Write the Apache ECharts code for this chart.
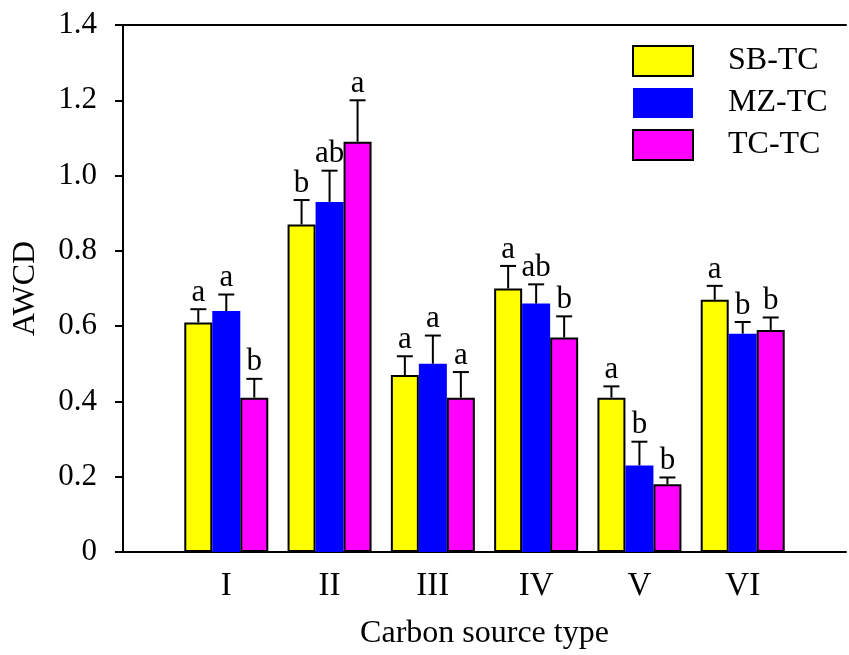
<!DOCTYPE html>
<html>
<head>
<meta charset="utf-8">
<script src="https://cdn.jsdelivr.net/npm/echarts@6/dist/echarts.min.js"></script>
<style>
html,body{margin:0;padding:0;background:#fff;overflow:hidden;}
#chart{width:849px;height:655px;}
</style>
</head>
<body>
<div id="chart"></div>
<script>
// ---- data ----
var categories = ['I', 'II', 'III', 'IV', 'V', 'VI'];
var seriesNames = ['SB-TC', 'MZ-TC', 'TC-TC'];
var sbValues = [0.61, 0.87, 0.47, 0.70, 0.41, 0.67];
var mzValues = [0.64, 0.93, 0.50, 0.66, 0.23, 0.58];
var tcValues = [0.41, 1.09, 0.41, 0.57, 0.18, 0.59];
var sbErrors = [0.035, 0.065, 0.05, 0.06, 0.03, 0.037];
var mzErrors = [0.044, 0.083, 0.075, 0.051, 0.063, 0.031];
var tcErrors = [0.05, 0.11, 0.068, 0.056, 0.018, 0.033];
var sbLetters = ['a', 'b', 'a', 'a', 'a', 'a'];
var mzLetters = ['a', 'ab', 'a', 'ab', 'b', 'b'];
var tcLetters = ['b', 'a', 'a', 'b', 'b', 'b'];
var yTickValues = [0, 0.2, 0.4, 0.6, 0.8, 1.0, 1.2, 1.4];
var yTickLabels = ['0', '0.2', '0.4', '0.6', '0.8', '1.0', '1.2', '1.4'];

// ---- build ----
var FONT = "'Liberation Serif', 'Times New Roman', serif";
var colors = ['#ffff00', '#0000ff', '#ff00ff'];
var borders = ['#000000', '#0000ff', '#000000'];
var values = [sbValues, mzValues, tcValues];
var errors = [sbErrors, mzErrors, tcErrors];
var letters = [sbLetters, mzLetters, tcLetters];
var axisCats = [''].concat(categories).concat(['']);
var BAR_W = 28;

function padded(arr) { return ['-'].concat(arr).concat(['-']); }

var series = [];
for (var s = 0; s < 3; s++) {
  series.push({
    name: seriesNames[s],
    type: 'bar',
    barWidth: BAR_W,
    barGap: '0%',
    data: padded(values[s]),
    itemStyle: { color: colors[s], borderColor: borders[s], borderWidth: s === 1 ? 0 : 2 },
    z: 2
  });
}
for (var s2 = 0; s2 < 3; s2++) {
  (function (si) {
    var d = values[si].map(function (v, i) { return [i + 1, v, errors[si][i]]; });
    series.push({
      name: seriesNames[si] + ' err',
      type: 'custom',
      z: 5,
      data: d,
      renderItem: function (params, api) {
        var x = api.value(0), v = api.value(1), e = api.value(2);
        var p0 = api.coord([x, v]);
        var p1 = api.coord([x, v + e]);
        var cx = p0[0] + (si - 1) * BAR_W;
        return {
          type: 'group',
          children: [
            { type: 'line', shape: { x1: cx, y1: p0[1], x2: cx, y2: p1[1] }, style: { stroke: '#000', lineWidth: 2 } },
            { type: 'line', shape: { x1: cx - 8, y1: p1[1], x2: cx + 8, y2: p1[1] }, style: { stroke: '#000', lineWidth: 2 } },
            { type: 'text', x: cx, y: p1[1] - 1, style: { text: letters[si][params.dataIndex], font: '31px ' + FONT, fill: '#000', align: 'center', verticalAlign: 'bottom' } }
          ]
        };
      }
    });
  })(s2);
}

var chart = echarts.init(document.getElementById('chart'), null, { renderer: 'canvas', width: 849, height: 655 });
chart.setOption({
  animation: false,
  backgroundColor: '#ffffff',
  grid: { left: 123, top: 25, height: 532, width: 735, containLabel: false },
  legend: {
    data: seriesNames,
    orient: 'vertical',
    left: 632,
    top: 45,
    itemWidth: 60,
    itemHeight: 30,
    itemGap: 10,
    icon: 'rect',
    padding: 0,
    selectedMode: false,
    textStyle: { fontFamily: FONT, fontSize: 32, lineHeight: 30, color: '#000', padding: [0, 0, 0, 30] }
  },
  xAxis: [{
    type: 'category',
    data: axisCats,
    boundaryGap: false,
    position: 'bottom',
    axisLine: { lineStyle: { color: '#000', width: 2 } },
    axisTick: { show: false },
    axisLabel: { fontFamily: FONT, fontSize: 33, color: '#000', margin: 18, interval: 0 },
    name: 'Carbon source type',
    nameLocation: 'middle',
    nameGap: 66,
    nameTextStyle: { fontFamily: FONT, fontSize: 32, color: '#000' },
    splitLine: { show: false }
  }, {
    type: 'category',
    data: axisCats,
    boundaryGap: false,
    position: 'top',
    axisLine: { lineStyle: { color: '#000', width: 2 } },
    axisTick: { show: false },
    axisLabel: { show: false },
    splitLine: { show: false }
  }],
  yAxis: {
    type: 'value',
    min: 0,
    max: 1.4,
    interval: 0.2,
    axisLine: { show: true, lineStyle: { color: '#000', width: 2 } },
    axisTick: { show: true, inside: false, length: 8, lineStyle: { color: '#000', width: 2 } },
    axisLabel: {
      fontFamily: FONT, fontSize: 31, color: '#000', margin: 26,
      formatter: function (v) {
        for (var i = 0; i < yTickValues.length; i++) {
          if (Math.abs(yTickValues[i] - v) < 1e-9) return yTickLabels[i];
        }
        return '';
      }
    },
    splitLine: { show: false },
    name: 'AWCD',
    nameLocation: 'middle',
    nameRotate: 90,
    nameGap: 81,
    nameTextStyle: { fontFamily: FONT, fontSize: 32, color: '#000' }
  },
  series: series
});
</script>
</body>
</html>
